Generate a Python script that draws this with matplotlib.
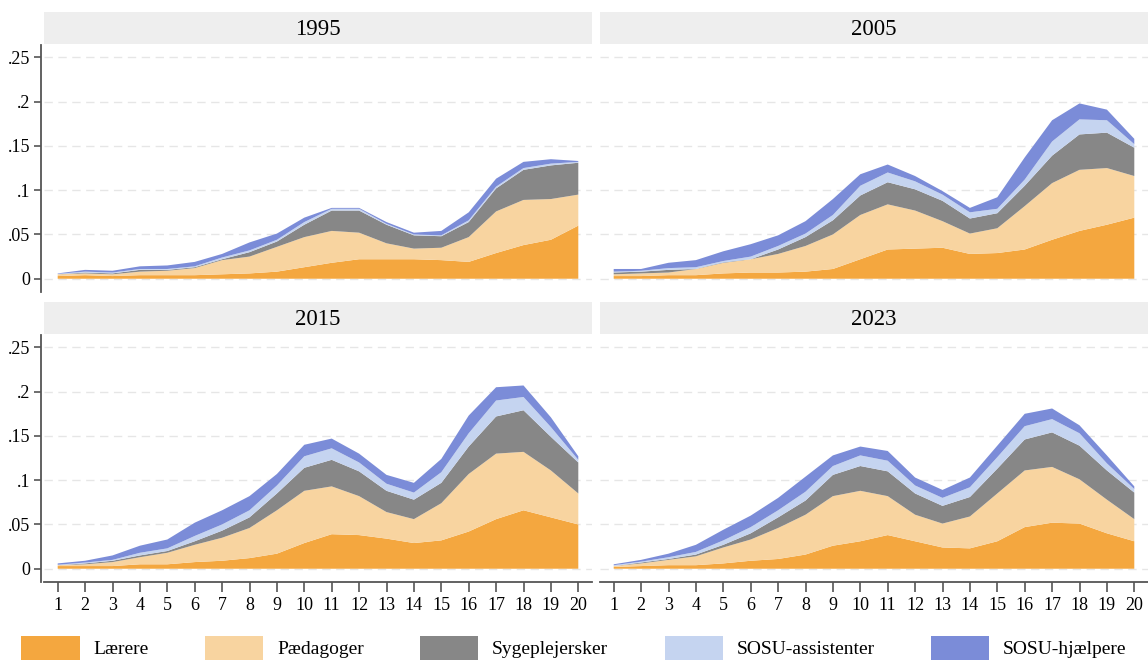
import numpy as np
import matplotlib
matplotlib.use("Agg")
import matplotlib.pyplot as plt
from matplotlib.patches import Patch

plt.rcParams['font.family'] = ['Liberation Serif', 'DejaVu Serif']

x = np.arange(1, 21)
series = ["Lærere", "Pædagoger", "Sygeplejersker", "SOSU-assistenter", "SOSU-hjælpere"]
colors = ["#F4A73F", "#F8D4A0", "#878787", "#C5D4F0", "#7B8CD8"]
years = ["1995", "2005", "2015", "2023"]

# upper edge of each stacked band (cumulative)
laerere_1995 = [.003, .004, .003, .004, .004, .004, .005, .006, .008, .013, .018, .022, .022, .022, .021, .019, .029, .038, .044, .060]
paed_1995 = [.005, .006, .005, .008, .009, .012, .021, .025, .036, .047, .054, .052, .040, .034, .035, .047, .076, .089, .090, .095]
syge_1995 = [.005, .007, .006, .010, .010, .013, .022, .030, .042, .061, .077, .077, .061, .049, .048, .064, .102, .123, .128, .131]
assist_1995 = [.0055, .008, .007, .011, .011, .014, .024, .032, .044, .064, .079, .079, .062, .050, .049, .066, .104, .125, .130, .132]
hjaelp_1995 = [.006, .010, .009, .014, .015, .019, .028, .041, .051, .069, .080, .080, .064, .052, .054, .075, .113, .132, .135, .133]

laerere_2005 = [.003, .003, .004, .004, .006, .007, .007, .008, .011, .022, .033, .034, .035, .028, .029, .033, .044, .054, .061, .069]
paed_2005 = [.005, .006, .007, .011, .019, .022, .028, .037, .050, .072, .084, .077, .065, .051, .057, .082, .108, .123, .125, .116]
syge_2005 = [.007, .008, .010, .011, .018, .022, .033, .047, .066, .094, .109, .101, .088, .068, .074, .105, .139, .163, .165, .148]
assist_2005 = [.008, .009, .012, .013, .020, .025, .037, .051, .072, .105, .120, .110, .095, .075, .079, .112, .155, .180, .179, .152]
hjaelp_2005 = [.011, .011, .018, .021, .031, .039, .049, .065, .090, .118, .129, .116, .099, .080, .092, .137, .179, .198, .191, .158]

laerere_2015 = [.003, .003, .003, .005, .005, .0075, .009, .012, .017, .029, .039, .038, .034, .029, .032, .042, .056, .066, .058, .050]
paed_2015 = [.004, .005, .0075, .013, .018, .027, .035, .046, .066, .088, .093, .082, .064, .056, .074, .107, .130, .132, .111, .085]
syge_2015 = [.004, .006, .009, .015, .020, .031, .043, .058, .085, .114, .123, .110, .088, .078, .097, .138, .172, .179, .149, .120]
assist_2015 = [.0045, .007, .010, .018, .023, .037, .050, .066, .094, .127, .136, .120, .096, .086, .109, .153, .190, .194, .160, .123]
hjaelp_2015 = [.006, .009, .015, .026, .033, .052, .066, .082, .107, .140, .147, .130, .106, .097, .124, .173, .205, .207, .171, .127]

laerere_2023 = [.002, .003, .004, .004, .006, .009, .011, .016, .026, .031, .038, .031, .024, .023, .031, .047, .052, .051, .040, .031]
paed_2023 = [.003, .006, .010, .014, .024, .033, .046, .061, .082, .088, .082, .061, .051, .059, .085, .111, .115, .101, .078, .056]
syge_2023 = [.003, .007, .011, .016, .027, .040, .058, .077, .106, .116, .110, .085, .071, .081, .113, .146, .154, .139, .111, .086]
assist_2023 = [.004, .008, .013, .019, .032, .047, .066, .087, .116, .128, .122, .094, .080, .092, .126, .161, .169, .153, .119, .090]
hjaelp_2023 = [.005, .010, .017, .027, .044, .060, .080, .104, .128, .138, .133, .103, .089, .103, .139, .175, .181, .162, .128, .093]

tops = {
    "1995": [laerere_1995, paed_1995, syge_1995, assist_1995, hjaelp_1995],
    "2005": [laerere_2005, paed_2005, syge_2005, assist_2005, hjaelp_2005],
    "2015": [laerere_2015, paed_2015, syge_2015, assist_2015, hjaelp_2015],
    "2023": [laerere_2023, paed_2023, syge_2023, assist_2023, hjaelp_2023],
}

yticks = [0, .05, .1, .15, .2, .25]
ylabels = ["0", ".05", ".1", ".15", ".2", ".25"]

W, H = 1148, 666
fig = plt.figure(figsize=(W / 100, H / 100), dpi=100)

# panel boxes in pixels: (left, top)
boxes = {"1995": (44, 45), "2005": (600, 45), "2015": (44, 335), "2023": (600, 335)}
pw, ph, hh = 548, 247, 32

for yr in years:
    lx, ty = boxes[yr]
    ax = fig.add_axes([lx / W, (H - ty - ph) / H, pw / W, ph / H])
    cum = np.array(tops[yr])
    vals = np.diff(np.vstack([np.zeros(len(x)), cum]), axis=0)
    ax.stackplot(x, vals, colors=colors, linewidth=0)
    ax.set_xlim(0.5, 20.5)
    ax.set_ylim(-0.015, 0.264)
    for t in yticks:
        ax.axhline(t, color="#e6e6e6", lw=1, ls=(0, (6, 4)), zorder=0)
    for s in ["top", "right"]:
        ax.spines[s].set_visible(False)
    left_col = lx < 300
    bottom_row = ty > 200
    ax.spines["left"].set_visible(left_col)
    ax.spines["bottom"].set_visible(bottom_row)
    for s in ["left", "bottom"]:
        ax.spines[s].set_color("#555555")
        ax.spines[s].set_linewidth(1.3)
    ax.spines["left"].set_position(("outward", 2))
    if left_col:
        ax.set_yticks(yticks)
        ax.set_yticklabels(ylabels, fontsize=13)
        ax.tick_params(axis="y", length=5, color="#555555", width=1.2, pad=3)
    else:
        ax.set_yticks([])
    if bottom_row:
        ax.set_xticks(x)
        ax.set_xticklabels([str(i) for i in x], fontsize=13)
        ax.tick_params(axis="x", length=7, color="#555555", width=1.2, pad=4)
    else:
        ax.set_xticks([])

    hax = fig.add_axes([lx / W, (H - ty + 1) / H, pw / W, hh / H])
    hax.set_facecolor("#eeeeee")
    hax.set_xticks([])
    hax.set_yticks([])
    for s in hax.spines.values():
        s.set_visible(False)
    hax.text(0.5, 0.45, yr, ha="center", va="center", fontsize=16.5, transform=hax.transAxes)

handles = [Patch(facecolor=c, edgecolor="none") for c in colors]
fig.legend(handles, series, loc="lower center", bbox_to_anchor=(0.5, -0.018), ncol=5, frameon=False,
           fontsize=14, handlelength=3.0, handleheight=1.6, columnspacing=2.9, handletextpad=0.7)

fig.savefig("out.png", dpi=100)
